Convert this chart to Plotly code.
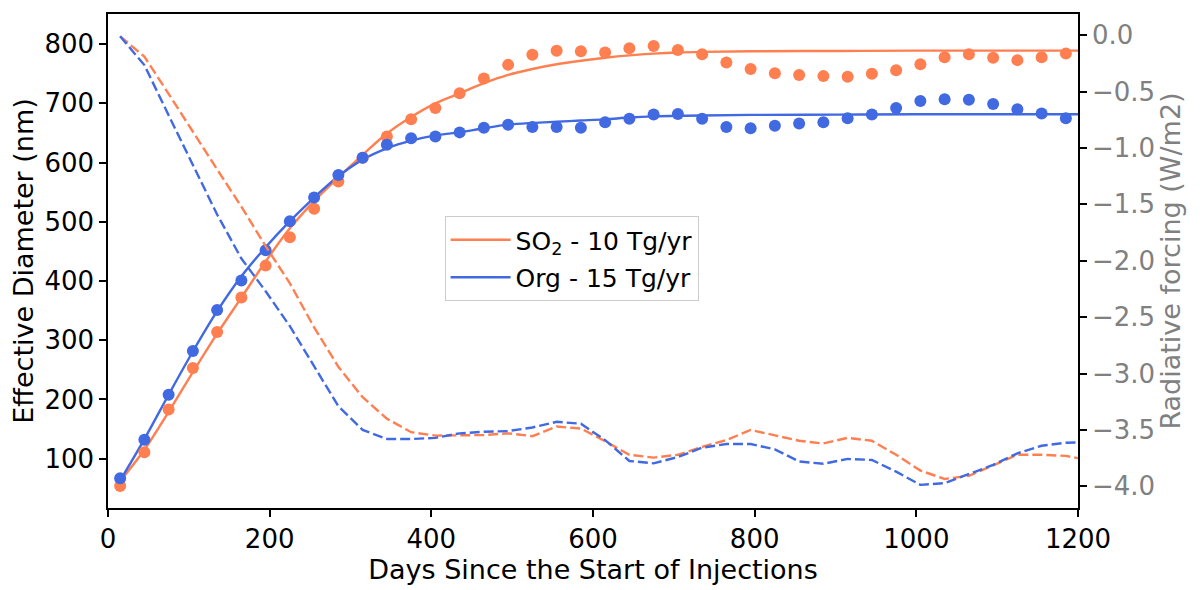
import plotly.graph_objects as go

# sample days (30-day means)
days = [15 + 30 * i for i in range(40)]

# effective diameter (nm), model output dots
so2_diam = [54, 111, 183, 253, 314, 372, 426, 474, 522, 568,
            608, 644, 673, 692, 717, 742, 765, 782, 789, 788,
            786, 793, 797, 790, 783, 769, 758, 751, 748, 746,
            745, 750, 756, 766, 778, 783, 777, 773, 778, 784]
org_diam = [67, 132, 208, 282, 351, 401, 452, 501, 541, 579,
            608, 630, 641, 644, 651, 659, 664, 660, 660, 659,
            668, 674, 681, 682, 674, 660, 658, 662, 666, 668,
            675, 681, 692, 704, 707, 706, 699, 690, 683, 675]

# fitted curves (nm)
fit_days = [15, 45, 75, 105, 135, 165, 195, 225, 255, 285, 315, 345, 375, 405,
            435, 465, 495, 525, 555, 585, 615, 645, 675, 705, 735, 795, 900, 1000, 1200]
so2_fit = [62, 115, 179, 246, 311, 372, 433, 489, 535, 575, 613, 649, 677, 700,
           717, 734, 748, 758, 766, 772, 777, 781, 784, 786, 787, 788, 788.5, 789, 789]
org_fit = [63, 133, 208, 281, 349, 408, 457, 501, 541, 577, 605, 624, 637, 646,
           651, 658, 664, 667, 669, 671, 673, 676, 678, 679, 679.5, 680.5, 681, 681.5, 681.5]

# radiative forcing (W/m2)
rf_days = days + [1215]
so2_rf = [-0.01, -0.19, -0.52, -0.86, -1.19, -1.52, -1.87, -2.20, -2.59, -2.94,
          -3.21, -3.40, -3.52, -3.55, -3.55, -3.545, -3.53, -3.555, -3.47, -3.487,
          -3.60, -3.72, -3.745, -3.72, -3.65, -3.59, -3.50, -3.545, -3.596, -3.62,
          -3.57, -3.596, -3.72, -3.86, -3.934, -3.907, -3.81, -3.72, -3.72, -3.73, -3.77]
org_rf = [-0.01, -0.265, -0.71, -1.15, -1.59, -1.98, -2.27, -2.58, -2.93, -3.29,
          -3.50, -3.58, -3.58, -3.57, -3.53, -3.516, -3.51, -3.478, -3.428, -3.445,
          -3.59, -3.775, -3.796, -3.74, -3.657, -3.625, -3.625, -3.672, -3.78, -3.80,
          -3.757, -3.766, -3.87, -3.987, -3.972, -3.89, -3.81, -3.707, -3.64, -3.613, -3.61]

ORANGE = "#FF7F50"
BLUE = "#4169E1"
FONT = "DejaVu Sans"

fig = go.Figure()

# dashed forcing lines on right axis
fig.add_trace(go.Scatter(x=rf_days, y=so2_rf, yaxis="y2", mode="lines",
                         line=dict(color=ORANGE, width=2.4, dash="10px,4px"), showlegend=False))
fig.add_trace(go.Scatter(x=rf_days, y=org_rf, yaxis="y2", mode="lines",
                         line=dict(color=BLUE, width=2.4, dash="10px,4px"), showlegend=False))

# fitted curves
fig.add_trace(go.Scatter(x=fit_days, y=so2_fit, mode="lines", line=dict(color=ORANGE, width=2.4, shape="spline"),
                         name="SO<sub>2</sub> - 10 Tg/yr", legendgroup="a"))
fig.add_trace(go.Scatter(x=fit_days, y=org_fit, mode="lines", line=dict(color=BLUE, width=2.4, shape="spline"),
                         name="Org - 15 Tg/yr", legendgroup="b"))

# dots
fig.add_trace(go.Scatter(x=days, y=so2_diam, mode="markers", marker=dict(color=ORANGE, size=12),
                         showlegend=False))
fig.add_trace(go.Scatter(x=days, y=org_diam, mode="markers", marker=dict(color=BLUE, size=12),
                         showlegend=False))

axis_common = dict(showgrid=False, zeroline=False, ticks="outside", ticklen=7, tickwidth=1.5,
                   tickcolor="black", linecolor="black", linewidth=1.5)

fig.update_layout(
    width=1192, height=582,
    margin=dict(l=100, r=122, t=4, b=82),
    plot_bgcolor="white", paper_bgcolor="white",
    font=dict(family=FONT, size=25, color="black"),
    xaxis=dict(range=[0, 1200], tickvals=[0, 200, 400, 600, 800, 1000, 1200],
               tickfont=dict(size=26), showline=True, mirror=True,
               title=dict(text="Days Since the Start of Injections", font=dict(size=27), standoff=3),
               **axis_common),
    yaxis=dict(range=[16.7, 850.9], tickvals=[100, 200, 300, 400, 500, 600, 700, 800],
               tickfont=dict(size=26), showline=True, mirror=True,
               title=dict(text="Effective Diameter (nm)", font=dict(size=27), standoff=8),
               **axis_common),
    yaxis2=dict(range=[-4.192, 0.188], overlaying="y", side="right",
                tickvals=[0, -0.5, -1, -1.5, -2, -2.5, -3, -3.5, -4], tickformat=".1f",
                tickfont=dict(size=26, color="#808080"), showline=True,
                title=dict(text="Radiative forcing (W/m2)", font=dict(size=27, color="#808080"), standoff=6),
                **axis_common),
    legend=dict(x=0.347, y=0.591, xanchor="left", yanchor="top",
                bgcolor="white", bordercolor="#cccccc", borderwidth=1,
                font=dict(size=25), tracegroupgap=2, itemwidth=60),
)

fig.write_html("out.html")
